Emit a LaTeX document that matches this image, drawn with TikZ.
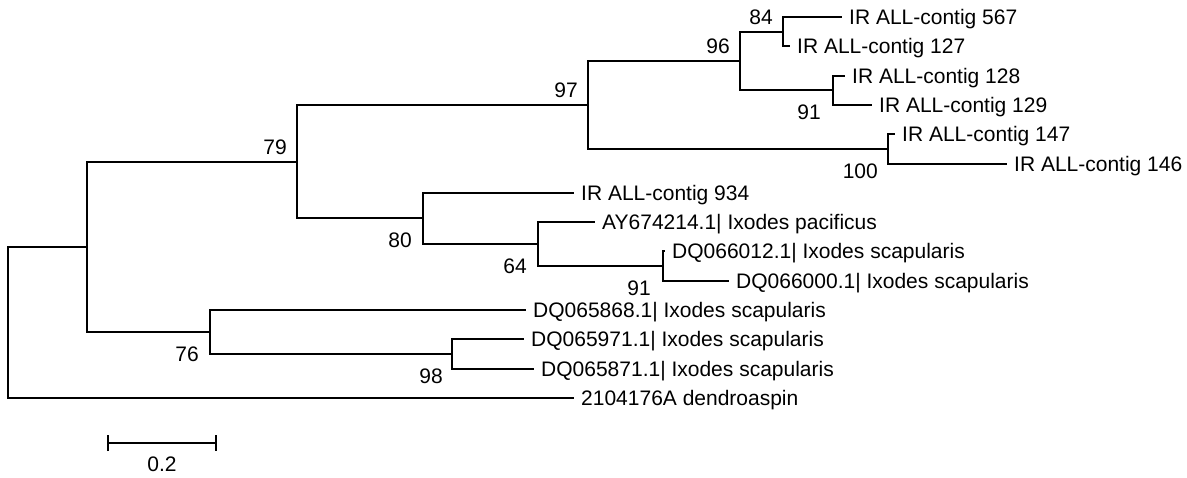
\documentclass[tikz,border=0pt]{standalone}
\usepackage{fontspec}
\setmainfont{Liberation Sans}
\usetikzlibrary{arrows.meta,calc}
\definecolor{pagebg}{HTML}{FFFFFF}
\definecolor{textfg}{HTML}{000000}
\definecolor{edge}{HTML}{000000}

\begin{document}
\begin{tikzpicture}[
  x=1pt,
  y=-1pt,
  font=\fontsize{21}{25}\selectfont,
  line join=miter,
  branch/.style={draw=edge, line width=2pt},
  leaf/.style={anchor=west, text=textfg, inner xsep=7pt, inner ysep=0pt,
    text height=15pt, text depth=0pt},
  boot/.style={anchor=east, text=textfg, inner sep=0pt, text height=15pt, text depth=0pt},
  bsup/.style={boot, yshift=15pt},
  bslo/.style={boot, yshift=-22pt}
]
  \fill[pagebg] (0,0) rectangle (1187,477);
  \useasboundingbox (0,0) rectangle (1187,477);

  \node[leaf] (l0)  at (842,17)    {IR ALL-contig 567};
  \node[leaf] (l1)  at (790,46.3)  {IR ALL-contig 127};
  \node[leaf] (l2)  at (845,75.6)  {IR ALL-contig 128};
  \node[leaf] (l3)  at (872,104.9) {IR ALL-contig 129};
  \node[leaf] (l4)  at (895,134.2) {IR ALL-contig 147};
  \node[leaf] (l5)  at (1007,163.5) {IR ALL-contig 146};
  \node[leaf] (l6)  at (574,192.8) {IR ALL-contig 934};
  \node[leaf] (l7)  at (595,222.1) {AY674214.1| Ixodes pacificus};
  \node[leaf] (l8)  at (665,251.4) {DQ066012.1| Ixodes scapularis};
  \node[leaf] (l9)  at (729,280.7) {DQ066000.1| Ixodes scapularis};
  \node[leaf] (l10) at (526,310)   {DQ065868.1| Ixodes scapularis};
  \node[leaf] (l11) at (524,339.3) {DQ065971.1| Ixodes scapularis};
  \node[leaf] (l12) at (534,368.6) {DQ065871.1| Ixodes scapularis};
  \node[leaf] (l13) at (574,397.9) {2104176A dendroaspin};

  \coordinate (n84)  at (783,31.65);
  \coordinate (n91a) at (833,90.25);
  \coordinate (n96)  at (740,60.95);
  \coordinate (n100) at (888,148.85);
  \coordinate (n97)  at (588,104.9);
  \coordinate (n91b) at (663,266.05);
  \coordinate (n64)  at (538,244.08);
  \coordinate (n80)  at (423,218.44);
  \coordinate (n79)  at (297,161.67);
  \coordinate (n98)  at (452,353.95);
  \coordinate (n76)  at (210,331.98);
  \coordinate (nA)   at (87,246.82);
  \coordinate (root) at (8,322.36);

  \draw[branch] (n84) |- (l0.west) (n84) |- (l1.west);
  \draw[branch] (n91a) |- (l2.west) (n91a) |- (l3.west);
  \draw[branch] (n96) |- (n84) (n96) |- (n91a);
  \draw[branch] (n100) |- (l4.west) (n100) |- (l5.west);
  \draw[branch] (n97) |- (n96) (n97) |- (n100);
  \draw[branch] (n91b) |- (l8.west) (n91b) |- (l9.west);
  \draw[branch] (n64) |- (l7.west) (n64) |- (n91b);
  \draw[branch] (n80) |- (l6.west) (n80) |- (n64);
  \draw[branch] (n79) |- (n97) (n79) |- (n80);
  \draw[branch] (n98) |- (l11.west) (n98) |- (l12.west);
  \draw[branch] (n76) |- (l10.west) (n76) |- (n98);
  \draw[branch] (nA) |- (n79) (nA) |- (n76);
  \draw[branch] (root) |- (nA) (root) |- (l13.west);

  \node[bsup] (b84)  at ([xshift=-10pt]n84)  {84};
  \node[bsup] (b96)  at ([xshift=-10pt]n96)  {96};
  \node[bsup] (b97)  at ([xshift=-10pt]n97)  {97};
  \node[bsup] (b79)  at ([xshift=-10pt]n79)  {79};
  \node[bslo] (b91a) at ([xshift=-12pt]n91a) {91};
  \node[bslo] (b100) at ([xshift=-10pt]n100) {100};
  \node[bslo] (b80)  at ([xshift=-11pt]n80)  {80};
  \node[bslo] (b64)  at ([xshift=-11pt]n64)  {64};
  \node[bslo] (b91b) at ([xshift=-12pt]n91b) {91};
  \node[bslo] (b76)  at ([xshift=-11pt]n76)  {76};
  \node[bslo] (b98)  at ([xshift=-9pt]n98)   {98};

  \coordinate (sb1) at (107,443);
  \coordinate (sb2) at (217,443);
  \draw[draw=edge, line width=2.2pt, {Bar[width=16pt]}-{Bar[width=16pt]}] (sb1) -- (sb2);
  \node[text=textfg, anchor=north, inner sep=0pt] (sblabel) at ($(sb1)!0.5!(sb2)+(0,14)$) {0.2};
\end{tikzpicture}
\end{document}
